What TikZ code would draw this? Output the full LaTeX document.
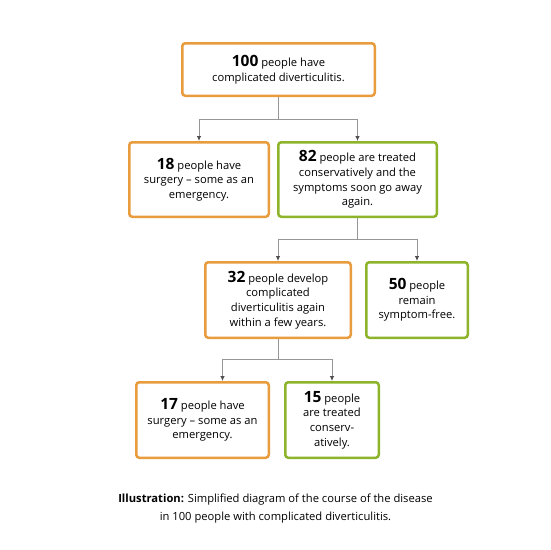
\documentclass[tikz,border=0pt]{standalone}
\usepackage{fontspec}
\setmainfont{Open Sans}
\usepackage{xcolor}
\usetikzlibrary{positioning, calc, arrows.meta}

\definecolor{boxorange}{RGB}{232,156,62}
\definecolor{boxgreen}{RGB}{141,180,42}
\definecolor{linegray}{RGB}{150,150,150}
\definecolor{tipgray}{RGB}{80,80,80}

\newcommand{\num}[1]{{\fontsize{15.5}{14.7}\selectfont\bfseries #1}}

\begin{document}
\begin{tikzpicture}[
    x=1pt, y=1pt,
    box/.style={rectangle, rounded corners=3pt, line width=2.5pt, fill=white, align=center,
        font=\fontsize{11.2}{14.7}\selectfont, inner sep=2pt},
    orangebox/.style={box, draw=boxorange},
    greenbox/.style={box, draw=boxgreen},
    conn/.style={draw=linegray, line width=0.8pt},
    arrow/.style={conn, -{Latex[length=5pt,width=4.5pt,color=tipgray]}}
]
    \useasboundingbox (0,0) rectangle (550,-550);

    % Start
    \node[orangebox, minimum width=192.5pt, minimum height=52.5pt] (start) at (278.5,-69.5)
        {\num{100} people have\\complicated diverticulitis.};

    % First split
    \node[orangebox, minimum width=139.5pt, minimum height=74.5pt, below=44pt of start, xshift=-79.5pt] (surg1)
        {\num{18} people have\\surgery -- some as an\\emergency.};
    \node[greenbox, minimum width=158.5pt, minimum height=74.5pt, right=7pt of surg1] (cons1)
        {\num{82} people are treated\\conservatively and the\\symptoms soon go away\\again.};

    % Second split
    \node[orangebox, minimum width=145.5pt, minimum height=75.5pt, below=43pt of cons1, xshift=-79.5pt] (again)
        {\num{32} people develop\\complicated\\diverticulitis again\\within a few years.};
    \node[greenbox, minimum width=101.5pt, minimum height=75.5pt, right=13pt of again] (free)
        {\num{50} people\\remain\\symptom-free.};

    % Third split
    \node[orangebox, minimum width=132.5pt, minimum height=75.5pt, below=42pt of again, xshift=-75.5pt] (surg2)
        {\num{17} people have\\surgery -- some as an\\emergency.};
    \node[greenbox, minimum width=93.5pt, minimum height=75.5pt, right=14pt of surg2] (cons2)
        {\num{15} people\\are treated\\conserv-\\atively.};

    % Junctions
    \coordinate (j1) at ($(start.south)+(0,-22)$);
    \coordinate (j2) at ($(cons1.south)+(0,-21)$);
    \coordinate (j3) at ($(again.south)+(0,-20)$);

    % Arrows
    \draw[conn] (start.south) -- (j1);
    \draw[arrow] (j1) -| (surg1.north);
    \draw[arrow] (j1) -| (cons1.north);
    \draw[conn] (cons1.south) -- (j2);
    \draw[arrow] (j2) -| (again.north);
    \draw[arrow] (j2) -| (free.north);
    \draw[conn] (again.south) -- (j3);
    \draw[arrow] (j3) -| ([xshift=20pt]surg2.north);
    \draw[arrow] (j3) -| (cons2.north);

    % Caption
    \node[align=center, font=\fontsize{11.2}{18}\selectfont] (caption) at (275.5,-509)
        {\textbf{Illustration:} Simplified diagram of the course of the disease\\in 100 people with complicated diverticulitis.};
\end{tikzpicture}
\end{document}
